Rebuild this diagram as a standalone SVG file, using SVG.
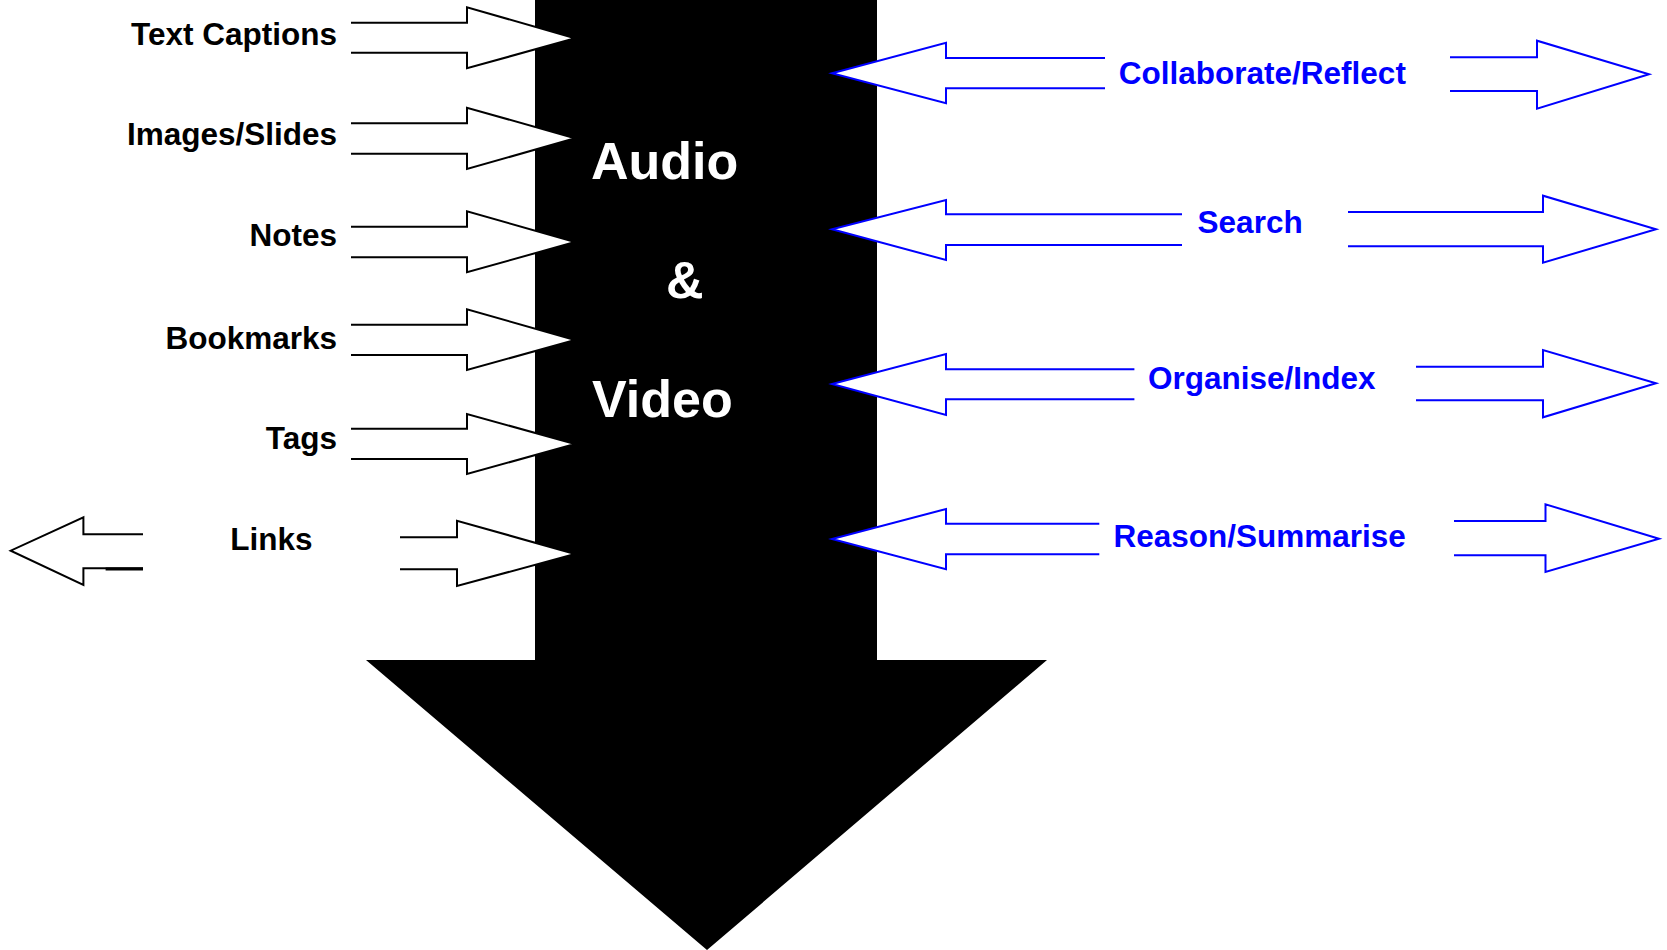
<svg xmlns="http://www.w3.org/2000/svg" width="1667" height="950" viewBox="0 0 1667 950">
<style>
.bk{fill:#fff;stroke:#000;stroke-width:2;stroke-linejoin:miter}
.bl{fill:#fff;stroke:#0000ff;stroke-width:2;stroke-linejoin:miter}
.lt{font-family:"Liberation Sans",Arial,sans-serif;font-weight:bold;font-size:31.5px;fill:#000;text-anchor:end}
.rt{font-family:"Liberation Sans",Arial,sans-serif;font-weight:bold;font-size:31.5px;fill:#0000ff}
.ct{font-family:"Liberation Sans",Arial,sans-serif;font-weight:bold;font-size:52px;fill:#fff}
</style>
<rect width="1667" height="950" fill="#fff"/>
<g id="main-arrow">
<polygon points="535,0 877,0 877,660 1047,660 707,950 366,660 535,660" fill="#000"/>
</g>
<g id="connectors">
<polyline class="bk" points="351,22.7 467,22.7 467,7.3 575,38.3 467,68.3 467,52.7 351,52.7"/>
<polyline class="bk" points="351,123.3 467,123.3 467,107.7 575,138.3 467,169 467,153.7 351,153.7"/>
<polyline class="bk" points="351,226.7 467,226.7 467,211.3 575,242 467,272.3 467,257.3 351,257.3"/>
<polyline class="bk" points="351,324.7 467,324.7 467,309.3 575,340 467,370 467,355 351,355"/>
<polyline class="bk" points="351,428.7 467,428.7 467,414 575,444 467,474 467,459 351,459"/>
<polyline class="bk" points="400,537.3 457,537.3 457,520.7 575,554 457,586 457,569.3 400,569.3"/>
<polyline class="bk" points="143,534.3 83.4,534.3 83.4,517.3 10.7,550.7 83.4,585 83.4,568.3 143,568.3"/>
<line x1="105.6" y1="569" x2="143" y2="569" stroke="#000" stroke-width="3"/>
<polyline class="bl" points="1105,58 946,58 946,42.7 832,73.3 946,103.3 946,88.3 1105,88.3"/>
<polyline class="bl" points="1450,57.3 1537,57.3 1537,40.7 1649,74.3 1537,108.7 1537,91 1450,91"/>
<polyline class="bl" points="1182,214.3 946,214.3 946,200 832,229.3 946,260 946,245 1182,245"/>
<polyline class="bl" points="1348,212 1543,212 1543,195.7 1656,229.3 1543,262.7 1543,246.3 1348,246.3"/>
<polyline class="bl" points="1134.4,369.3 946,369.3 946,354 832,384 946,415 946,399.3 1134.4,399.3"/>
<polyline class="bl" points="1416,366.7 1543,366.7 1543,350 1656,383.3 1543,417.3 1543,400.3 1416,400.3"/>
<polyline class="bl" points="1099.3,523.7 946,523.7 946,509 832,539 946,569.3 946,554.3 1099.3,554.3"/>
<polyline class="bl" points="1454,521 1545.5,521 1545.5,504.3 1659,538.7 1545.5,572 1545.5,555.3 1454,555.3"/>
</g>
<g id="center-label">
<text class="ct" x="591" y="179">Audio</text>
<text class="ct" x="666" y="298">&amp;</text>
<text class="ct" x="592" y="416.7">Video</text>
</g>
<g id="n-text-captions"><text class="lt" x="337" y="45">Text Captions</text></g>
<g id="n-images-slides"><text class="lt" x="337" y="145">Images/Slides</text></g>
<g id="n-notes"><text class="lt" x="337" y="245.7">Notes</text></g>
<g id="n-bookmarks"><text class="lt" x="337" y="349.3">Bookmarks</text></g>
<g id="n-tags"><text class="lt" x="337" y="449">Tags</text></g>
<g id="n-links"><text class="lt" x="312.5" y="550">Links</text></g>
<g id="n-collaborate"><text class="rt" x="1118.8" y="84.3">Collaborate/Reflect</text></g>
<g id="n-search"><text class="rt" x="1197.6" y="232.7">Search</text></g>
<g id="n-organise"><text class="rt" x="1148" y="389.3">Organise/Index</text></g>
<g id="n-reason"><text class="rt" x="1113.4" y="547.3">Reason/Summarise</text></g>
</svg>
